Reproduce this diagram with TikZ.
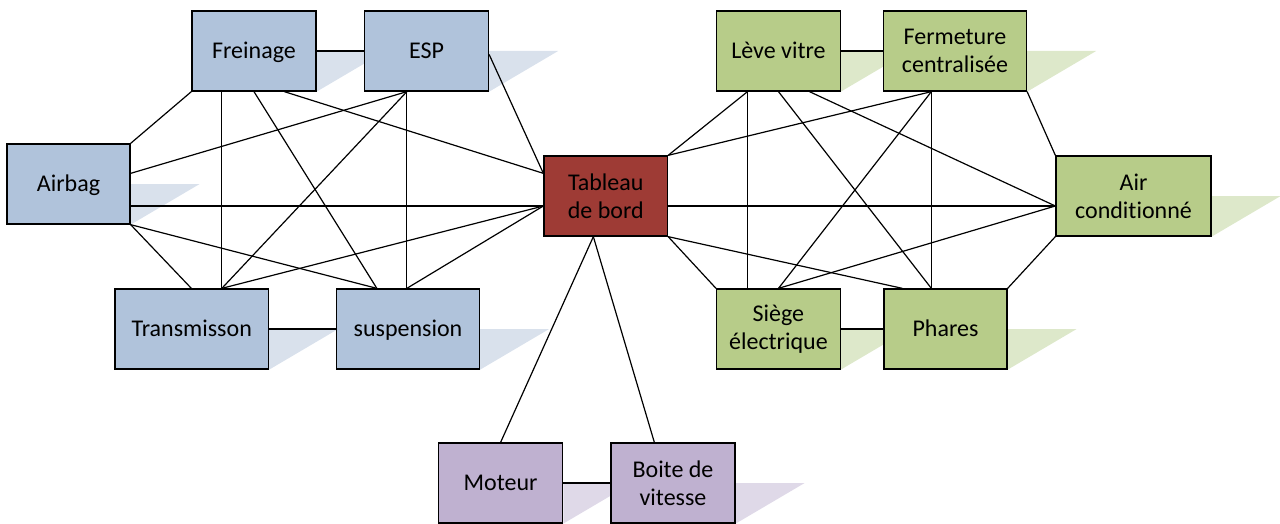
\documentclass[tikz,border=0pt]{standalone}
\usepackage{fontspec}
\setmainfont[Ligatures=NoCommon]{Carlito}
\usetikzlibrary{calc}
\pgfdeclarelayer{background}
\pgfsetlayers{background,main}

\definecolor{blueFill}{HTML}{B0C3DB}
\definecolor{blueShade}{HTML}{D9E1EC}
\definecolor{greenFill}{HTML}{B7CC89}
\definecolor{greenShade}{HTML}{DDE8CA}
\definecolor{purpleFill}{HTML}{BFB1D0}
\definecolor{purpleShade}{HTML}{DFD9E8}
\definecolor{redFill}{HTML}{9E3B35}

\tikzset{
  box/.style={draw=black, line width=1.3pt, inner sep=0pt, minimum height=80pt,
              align=center, text=black, font=\fontsize{24}{28}\selectfont},
  oneline/.style={text height=17pt, text depth=2pt},
  bluebox/.style={box, fill=blueFill},
  greenbox/.style={box, fill=greenFill},
  purplebox/.style={box, fill=purpleFill},
  redbox/.style={box, fill=redFill},
  link/.style={draw=black, line width=1.2pt},
}

% flat slanted shadow to the right of a box
\newcommand\boxshadow[2]{\fill[#2] (#1.east) -- ++(69pt,0) -- (#1.south east) -- cycle;}

\begin{document}
\begin{tikzpicture}[x=1pt, y=-1pt]
\useasboundingbox (0,0) rectangle (1280,524);

% vehicle body / safety group
\node[bluebox, oneline, minimum width=124pt] (fr) at (254,51)    {Freinage};
\node[bluebox, oneline, minimum width=124pt] (es) at (426.5,51)  {ESP};
\node[bluebox, oneline, minimum width=123pt] (ab) at (68.5,184)  {Airbag};
\node[bluebox, oneline, minimum width=153.5pt] (tr) at (191.75,329) {Transmisson};
\node[bluebox, oneline, minimum width=143pt] (su) at (408,329)   {suspension};

% dashboard
\node[redbox, minimum width=123.5pt] (tb) at (605.75,196) {Tableau\\de bord};

% comfort group
\node[greenbox, oneline, minimum width=123.5pt] (lv) at (778.4,51)  {Lève vitre};
\node[greenbox, minimum width=143pt]   (fc) at (955,51)    {Fermeture\\centralisée};
\node[greenbox, minimum width=155pt]   (ac) at (1133.5,196) {Air\\conditionné};
\node[greenbox, minimum width=123.5pt] (se) at (778.4,329) {Siège\\électrique};
\node[greenbox, oneline, minimum width=123pt]   (ph) at (945.5,329) {Phares};

% powertrain group
\node[purplebox, oneline, minimum width=124pt] (mo) at (500.6,483) {Moteur};
\node[purplebox, minimum width=124pt] (bo) at (673,483)   {Boite de\\vitesse};

\begin{pgfonlayer}{background}
  \boxshadow{fr}{blueShade}
  \boxshadow{es}{blueShade}
  \boxshadow{ab}{blueShade}
  \boxshadow{tr}{blueShade}
  \boxshadow{su}{blueShade}
  \boxshadow{lv}{greenShade}
  \boxshadow{fc}{greenShade}
  \boxshadow{ac}{greenShade}
  \boxshadow{se}{greenShade}
  \boxshadow{ph}{greenShade}
  \boxshadow{mo}{purpleShade}
  \boxshadow{bo}{purpleShade}
\end{pgfonlayer}

% connection points on the dashboard
\coordinate (tbL1) at ($(tb.north west)+(0,18)$);
\coordinate (tbL2) at ($(tb.west)+(0,10)$);
\coordinate (tbR)  at ($(tb.east)+(0,10)$);
\coordinate (tbB)  at ($(tb.south west)+(50,0)$);

% left cluster
\draw[link] (fr.east) -- (es.west);
\draw[link] (fr.south west) -- (ab.north east);
\draw[link] ($(fr.south west)+(30.5,0)$) -- ($(tr.north west)+(107.5,0)$);
\draw[link] (fr.south) -- ($(su.north west)+(41,0)$);
\draw[link] ($(fr.south west)+(93,0)$) -- (tbL1);
\draw[link] ($(es.south west)+(43,0)$) -- ($(ab.north east)+(0,30)$);
\draw[link] ($(es.south west)+(43,0)$) -- ($(tr.north west)+(107.5,0)$);
\draw[link] ($(es.south west)+(43,0)$) -- ($(su.north west)+(71,0)$);
\draw[link] ($(es.east)+(0,3.5)$) -- (tbL1);
\draw[link] ($(ab.east)+(0,22)$) -- (tbL2);
\draw[link] (ab.south east) -- ($(tr.north west)+(77,0)$);
\draw[link] (ab.south east) -- ($(su.north west)+(41,0)$);
\draw[link] (tr.east) -- (su.west);
\draw[link] ($(tr.north west)+(107.5,0)$) -- (tbL2);
\draw[link] ($(su.north west)+(71,0)$) -- (tbL2);

% right cluster
\draw[link] (lv.east) -- (fc.west);
\draw[link] ($(lv.south west)+(31.5,0)$) -- (tb.north east);
\draw[link] ($(lv.south west)+(31.5,0)$) -- ($(se.north west)+(31.5,0)$);
\draw[link] ($(lv.south west)+(62.5,0)$) -- ($(ph.north west)+(48,0)$);
\draw[link] ($(lv.south west)+(93.5,0)$) -- ($(ac.west)+(0,10)$);
\draw[link] ($(fc.south west)+(48.5,0)$) -- (tb.north east);
\draw[link] ($(fc.south west)+(48.5,0)$) -- ($(se.north west)+(62.5,0)$);
\draw[link] ($(fc.south west)+(48.5,0)$) -- ($(ph.north west)+(48,0)$);
\draw[link] (fc.south east) -- (ac.north west);
\draw[link] (tbR) -- ($(ac.west)+(0,10)$);
\draw[link] ($(ac.west)+(0,10)$) -- ($(se.north west)+(62.5,0)$);
\draw[link] (ac.south west) -- (ph.north east);
\draw[link] (tb.south east) -- (se.north west);
\draw[link] (tb.south east) -- ($(ph.north west)+(19,0)$);
\draw[link] (se.east) -- (ph.west);

% powertrain links
\draw[link] (tbB) -- (mo.north);
\draw[link] (tbB) -- ($(bo.north west)+(44,0)$);
\draw[link] (mo.east) -- (bo.west);
\end{tikzpicture}
\end{document}
